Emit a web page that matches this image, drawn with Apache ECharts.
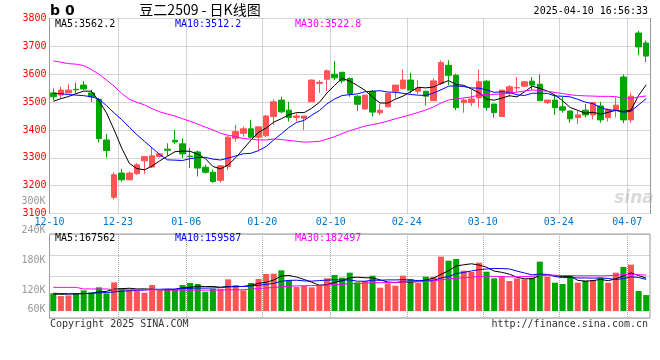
<!DOCTYPE html>
<html><head><meta charset="utf-8">
<script src="https://cdn.jsdelivr.net/npm/echarts@6/dist/echarts.min.js"></script>
<style>html,body{margin:0;padding:0;background:#fff}#c{width:660px;height:360px}</style>
</head><body><div id="c"></div>
<script>
// ---------- data ----------
const dates = ['12-10','12-11','12-12','12-13','12-16','12-17','12-18','12-19','12-20','12-23','12-24','12-25','12-26','12-27','12-30','12-31','01-02','01-03','01-06','01-07','01-08','01-09','01-10','01-13','01-14','01-15','01-16','01-17','01-20','01-21','01-22','01-23','01-24','01-27','02-05','02-06','02-07','02-10','02-11','02-12','02-13','02-14','02-17','02-18','02-19','02-20','02-21','02-24','02-25','02-26','02-27','02-28','03-03','03-04','03-05','03-06','03-07','03-10','03-11','03-12','03-13','03-14','03-17','03-18','03-19','03-20','03-21','03-24','03-25','03-26','03-27','03-28','03-31','04-01','04-02','04-03','04-07','04-08','04-09'];
const xTickLabels = ['12-10','12-23','01-06','01-20','02-10','02-24','03-10','03-24','04-07'];

const opens  = [3533,3525,3533,3546,3561,3533,3510,3364,3158,3245,3221,3243,3289,3267,3305,3331,3363,3350,3306,3321,3266,3248,3219,3269,3370,3388,3404,3374,3379,3448,3507,3471,3445,3442,3501,3567,3582,3600,3607,3585,3521,3475,3539,3462,3483,3539,3549,3579,3539,3539,3505,3567,3632,3596,3498,3498,3515,3575,3493,3448,3531,3551,3557,3575,3564,3498,3507,3483,3468,3444,3471,3454,3486,3444,3471,3590,3436,3748,3712];
const closes = [3519,3543,3543,3544,3547,3519,3369,3326,3239,3221,3245,3275,3304,3307,3314,3327,3357,3314,3304,3263,3248,3215,3271,3374,3394,3404,3374,3411,3450,3501,3465,3445,3450,3450,3579,3571,3612,3587,3576,3531,3492,3525,3464,3471,3531,3561,3579,3543,3551,3521,3576,3642,3596,3480,3507,3511,3573,3481,3462,3543,3555,3552,3573,3561,3505,3507,3480,3471,3440,3454,3454,3498,3436,3474,3489,3436,3521,3698,3665];
const lows   = [3507,3513,3531,3531,3543,3501,3355,3301,3150,3215,3219,3239,3242,3263,3301,3307,3350,3299,3263,3233,3243,3210,3210,3255,3358,3376,3370,3323,3376,3418,3460,3430,3430,3400,3501,3533,3539,3579,3567,3519,3469,3475,3448,3454,3480,3513,3545,3531,3529,3488,3504,3561,3561,3471,3462,3486,3480,3469,3444,3448,3519,3537,3555,3543,3505,3493,3454,3462,3426,3421,3445,3438,3426,3430,3445,3424,3424,3668,3644];
const highs  = [3549,3555,3564,3570,3575,3545,3513,3386,3248,3260,3251,3281,3307,3338,3317,3352,3400,3370,3335,3326,3275,3257,3274,3380,3418,3412,3436,3411,3454,3510,3519,3501,3460,3450,3581,3579,3617,3648,3607,3588,3524,3525,3543,3495,3531,3561,3618,3605,3579,3539,3585,3650,3650,3602,3513,3545,3617,3579,3493,3543,3561,3590,3576,3590,3599,3507,3523,3519,3469,3468,3493,3498,3501,3477,3517,3599,3534,3756,3721];

const ma5  = [3503,3512,3520,3530,3539.2,3539.2,3504.4,3461,3400,3334.8,3280,3261.2,3256.8,3270.4,3289,3305.4,3321.8,3323.8,3323.2,3313,3297.2,3268.8,3260.2,3274.2,3300.4,3331.6,3363.4,3391.4,3406.6,3428,3440.2,3454.4,3462.2,3462.2,3477.8,3499,3532.4,3559.8,3585,3575.4,3559.6,3542.2,3517.6,3496.6,3496.6,3510.4,3521.2,3537,3553,3551,3554,3566.6,3577.2,3563,3560.2,3547.2,3533.4,3510.4,3506.8,3514,3522.8,3518.6,3537,3556.8,3549.2,3539.6,3525.2,3504.8,3480.6,3470.4,3459.8,3463.4,3456.4,3463.2,3470.2,3466.6,3471.2,3523.6,3561.8];
const ma10 = [3531,3530,3527,3525,3523,3519,3511,3487,3461,3437,3409.6,3382.8,3358.9,3335.2,3311.9,3292.7,3291.5,3290.3,3296.8,3301,3301.3,3295.3,3292,3298.7,3306.7,3314.4,3316.1,3325.8,3340.4,3364.2,3385.9,3408.9,3426.8,3434.4,3452.9,3469.6,3493.4,3511,3523.6,3526.6,3529.3,3537.3,3538.7,3540.8,3536,3535,3531.7,3527.3,3524.8,3523.8,3532.2,3543.9,3557.1,3558,3555.6,3550.6,3550,3543.8,3534.9,3537.1,3535,3526,3523.7,3531.8,3531.6,3531.2,3521.9,3520.9,3518.7,3509.8,3499.7,3494.3,3480.6,3471.9,3470.3,3463.2,3467.3,3490,3512.5];
const ma30 = [3648,3643,3638,3636,3631,3617,3600,3579,3557,3531,3510,3499,3490,3476,3465,3457,3450,3440,3431,3421,3410,3400,3388,3381,3376,3369,3367,3364,3364,3367.4,3365.6,3362.3,3359.2,3356.1,3357.2,3358.9,3367,3375.7,3386.9,3397.3,3405.5,3413.8,3419.2,3424.6,3431.9,3439.7,3447.1,3454.7,3462.9,3471.5,3482.5,3496.7,3507.5,3511.1,3514.8,3518.4,3525,3527.4,3527.8,3529.2,3532.2,3535.7,3539.8,3543.5,3541.1,3538.9,3534.5,3530.7,3526.1,3523.6,3522.3,3521.4,3520.5,3520.6,3519.2,3515,3513.1,3518.2,3522];

const volumes = [89600,76100,79400,89600,104800,94600,120000,89600,145300,116600,106500,101400,93000,131800,104800,109900,109900,131800,142000,136900,98000,113200,113200,160600,131800,104800,142000,162200,187600,189300,206200,155500,121700,126800,120000,131800,165600,182500,169000,194400,145300,152100,179100,118300,140300,128400,179100,162200,143700,174100,172400,275500,255200,263600,204500,197700,245100,199400,165600,172400,152100,165600,160600,169000,250100,174100,143700,136900,179100,143700,153800,157200,169000,143700,194400,223100,234900,101400,81100];
const vma5  = [86000,85000,86000,87000,87900,88900,97680,99720,110860,113220,115600,111880,112560,109860,107500,108180,109880,117640,119680,126100,123720,124380,120660,124380,123360,124720,130480,140280,145680,157180,177460,180160,172060,159900,146040,131160,133180,145340,153780,168660,171360,168660,167980,157840,147020,143640,149040,145660,150740,157500,166300,185580,204180,228160,234240,239300,233220,222060,202460,196040,186920,171020,163260,163940,179480,183880,179500,174760,176780,155500,151440,154140,160560,153480,163620,177480,193020,179500,166980];
const vma10 = [90000,89000,88000,88000,89000,90000,92000,94000,97000,100560,102250,104780,106140,110360,110360,111890,110880,115100,114770,116800,115950,117130,119150,122030,124730,124220,127430,130470,135030,140270,151090,155320,156170,152790,151610,154310,156670,158700,156840,157350,151260,150920,156660,155810,157840,157500,158850,156820,154290,152260,154970,167310,174920,189450,195870,202800,209400,213120,215310,215140,213110,202120,192660,183200,187760,185400,175260,169010,170360,167490,167660,166820,167660,165130,159560,164460,173580,170030,160230];
const vma30 = [120000,120000,120000,120000,112000,112000,112000,112000,108000,108000,108000,108000,108000,108000,108000,106000,106000,106000,106000,106000,106000,106000,106000,108000,108000,108000,111000,114000,117000,119210,123097,125743,127153,128393,128900,130140,131660,134757,135547,138140,139433,141123,143993,143543,144727,145343,147650,148663,148720,149960,152440,157850,162583,166017,168440,171537,174973,176213,175480,174917,173113,173450,174747,176153,180490,181900,181170,179650,179987,178297,178580,178750,178413,179260,181063,184220,186080,184053,181967];

const priceTicks = {min: 3100, max: 3800, step: 100};
const volTickLabels = ['300K','240K','180K','120K','60K'];
const maPriceLabels = ['MA5:3562.2','MA10:3512.2','MA30:3522.8'];
const maVolLabels = ['MA5:167562','MA10:159587','MA30:182497'];
const titleText = '豆二2509 - 日K线图';
const codeText = 'b 0';
const timeText = '2025-04-10 16:56:33';
const footerLeft = 'Copyright 2025 SINA.COM';
const footerRight = 'http://finance.sina.com.cn';

// ---------- styling ----------
const MONO = '"DejaVu Sans Mono", "Liberation Mono", monospace';
const RED = '#FF5454', GREEN = '#00A600';
const GRIDC = '#AAAAAA', BORDER = '#999999';
const maColors = ['#000000', '#0000FF', '#FF00FF'];
const volLabelPos = [0, 29.7, 59.7, 89, 108];   // layout of the volume scale labels (px offsets)

const candleData = opens.map((o, i) => [o, closes[i], lows[i], highs[i]]);
const boundaryCats = dates.concat(['']);
const isTick = (i) => xTickLabels.indexOf(boundaryCats[i]) >= 0;

const chart = echarts.init(document.getElementById('c'), null, {renderer: 'canvas'});

function txt(text, x, y, color, font, align) {
  return {type: 'text', x: x, y: y, silent: true, z: 100,
    style: {text: text, fill: color, font: font, align: align || 'left', verticalAlign: 'middle',
            textAlign: align || 'left', textVerticalAlign: 'middle'}};
}
function line(name, data, color, xi, yi) {
  return {name: name, type: 'line', data: data, xAxisIndex: xi, yAxisIndex: yi,
    symbol: 'none', showSymbol: false, smooth: false, z: 5,
    lineStyle: {color: color, width: 1}, itemStyle: {color: color}, emphasis: {disabled: true}};
}

const option = {
  animation: false,
  backgroundColor: '#ffffff',
  grid: [
    {left: 49.5, top: 18.5, width: 600.5, height: 195, show: false},
    {left: 49.5, top: 234, width: 600.5, height: 84, show: true, borderColor: BORDER, borderWidth: 1, backgroundColor: 'transparent'},
    {left: 49.5, top: 201, width: 600.5, height: 108, show: false}
  ],
  xAxis: [
    {gridIndex: 0, type: 'category', data: dates, boundaryGap: true, show: false},
    {gridIndex: 0, type: 'category', data: boundaryCats, boundaryGap: false, position: 'bottom',
      axisLine: {show: false}, axisTick: {show: false},
      axisLabel: {interval: (i) => isTick(i), color: '#0077CC', fontFamily: MONO, fontSize: 10, margin: 4},
      splitLine: {show: true, interval: (i) => isTick(i), lineStyle: {color: GRIDC, type: 'dotted', width: 1}}},
    {gridIndex: 1, type: 'category', data: dates, boundaryGap: true, show: false},
    {gridIndex: 1, type: 'category', data: boundaryCats, boundaryGap: false, position: 'bottom',
      axisLine: {show: false}, axisTick: {show: false}, axisLabel: {show: false},
      splitLine: {show: true, interval: (i) => isTick(i), lineStyle: {color: GRIDC, type: 'dotted', width: 1}}},
    {gridIndex: 2, type: 'value', show: false}
  ],
  yAxis: [
    {gridIndex: 0, type: 'value', min: priceTicks.min, max: priceTicks.max, interval: priceTicks.step, position: 'left',
      axisLine: {show: true, lineStyle: {color: BORDER}}, axisTick: {show: false},
      axisLabel: {color: '#FF0000', fontFamily: MONO, fontSize: 10, margin: 3, padding: [0, 0, 3, 0],
        formatter: (v) => String(v)},
      splitLine: {show: true, lineStyle: {color: GRIDC, type: 'dotted', width: 1}}},
    {gridIndex: 0, type: 'value', min: priceTicks.min, max: priceTicks.max, interval: priceTicks.step, position: 'right',
      axisLine: {show: true, lineStyle: {color: BORDER}}, axisTick: {show: false}, axisLabel: {show: false}, splitLine: {show: false}},
    {gridIndex: 1, type: 'value', min: -35000, max: 390000, show: false, splitLine: {show: false}},
    {gridIndex: 1, type: 'value', min: 0, max: 4, interval: 1, position: 'left',
      axisLine: {show: false}, axisTick: {show: false}, axisLabel: {show: false},
      splitLine: {show: true, lineStyle: {color: GRIDC, type: 'dotted', width: 1}}},
    {gridIndex: 2, type: 'value', min: 0, max: 108, inverse: true, position: 'left',
      axisLine: {show: false}, axisTick: {show: false}, splitLine: {show: false},
      axisLabel: {customValues: volLabelPos, color: '#999999', fontFamily: MONO, fontSize: 10, margin: 4,
        formatter: (v) => { const k = volLabelPos.indexOf(v); return k >= 0 ? volTickLabels[k] : ''; }}}
  ],
  series: [
    {name: 'K', type: 'candlestick', data: candleData, xAxisIndex: 0, yAxisIndex: 0, barWidth: 6, z: 3,
      itemStyle: {color: RED, color0: GREEN, borderColor: RED, borderColor0: GREEN, borderWidth: 1}},
    line('MA5', ma5, maColors[0], 0, 0),
    line('MA10', ma10, maColors[1], 0, 0),
    line('MA30', ma30, maColors[2], 0, 0),
    {name: 'VOL', type: 'bar', data: volumes, xAxisIndex: 2, yAxisIndex: 2, barWidth: 6, z: 3,
      itemStyle: {color: (p) => closes[p.dataIndex] >= opens[p.dataIndex] ? RED : GREEN}},
    line('VMA5', vma5, maColors[0], 2, 2),
    line('VMA10', vma10, maColors[1], 2, 2),
    line('VMA30', vma30, maColors[2], 2, 2)
  ],
  graphic: [
    txt(codeText, 50, 11, '#000', 'bold 14px "DejaVu Sans"'),
    txt(titleText, 200, 10, '#000', '14px "Noto Sans CJK SC"', 'center'),
    txt(timeText, 648, 11.5, '#000', '10px ' + MONO, 'right'),
    txt(maPriceLabels[0], 55, 24, maColors[0], '10px ' + MONO),
    txt(maPriceLabels[1], 175, 24, maColors[1], '10px ' + MONO),
    txt(maPriceLabels[2], 295, 24, maColors[2], '10px ' + MONO),
    txt(maVolLabels[0], 55, 238.5, maColors[0], '10px ' + MONO),
    txt(maVolLabels[1], 175, 238.5, maColors[1], '10px ' + MONO),
    txt(maVolLabels[2], 295, 238.5, maColors[2], '10px ' + MONO),
    txt('sina', 634, 199, 'rgba(170,170,170,0.45)', 'italic bold 17px "DejaVu Sans"', 'center'),
    txt(footerLeft, 50, 324, '#333', '10px ' + MONO),
    txt(footerRight, 648, 324, '#333', '10px ' + MONO, 'right')
  ]
};
chart.setOption(option);
</script>
</body></html>
